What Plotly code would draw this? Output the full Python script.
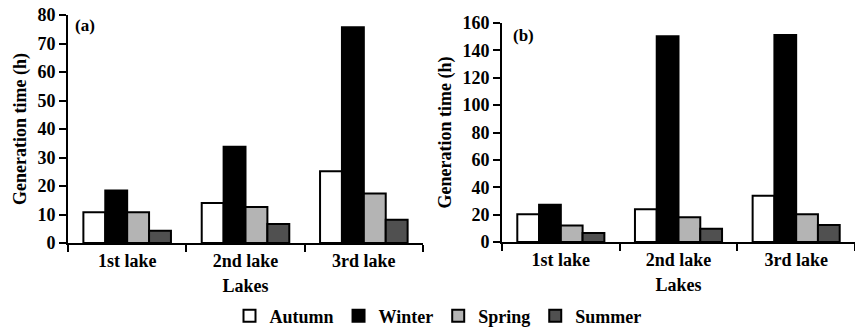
import plotly.graph_objects as go
from plotly.subplots import make_subplots

lakes = ["1st lake", "2nd lake", "3rd lake"]
seasons = ["Autumn", "Winter", "Spring", "Summer"]
colors = ["#ffffff", "#000000", "#b4b4b4", "#505050"]

panel_a = {
    "Autumn": [10.8, 14.0, 25.2],
    "Winter": [18.4, 33.8, 75.7],
    "Spring": [10.8, 12.6, 17.4],
    "Summer": [4.3, 6.7, 8.2],
}
panel_b = {
    "Autumn": [20.2, 24.0, 33.8],
    "Winter": [27.3, 150.4, 151.3],
    "Spring": [12.0, 18.1, 20.3],
    "Summer": [6.5, 9.6, 12.5],
}

FONT = "'Liberation Serif', 'Times New Roman', serif"
W, H = 855, 330

def tf(size):
    return dict(family=FONT, size=size, color="black", weight="bold")

fig = make_subplots(rows=1, cols=2)
for i, s in enumerate(seasons):
    fig.add_trace(go.Bar(x=lakes, y=panel_a[s], name=s, marker_color=colors[i],
                         marker_line_color="black", marker_line_width=2,
                         legendgroup=s, showlegend=True), row=1, col=1)
    fig.add_trace(go.Bar(x=lakes, y=panel_b[s], name=s, marker_color=colors[i],
                         marker_line_color="black", marker_line_width=2,
                         legendgroup=s, showlegend=False), row=1, col=2)

axis_common = dict(showline=True, linecolor="black", linewidth=2, ticks="outside",
                   tickcolor="black", tickwidth=2, showgrid=False, zeroline=False,
                   tickfont=tf(18))

fig.update_xaxes(**axis_common, tickson="boundaries", ticklen=7, range=[-0.5, 2.5],
                 title=dict(text="Lakes", standoff=10, font=tf(18)))
fig.update_xaxes(domain=[68/W, 423/W], row=1, col=1)
fig.update_xaxes(domain=[502/W, 1.0], row=1, col=2)

fig.update_yaxes(**axis_common, ticklen=7,
                 title=dict(text="Generation time (h)", standoff=6, font=tf(18)))
fig.update_yaxes(range=[0, 80], dtick=10, domain=[(H-243)/H, (H-15)/H], row=1, col=1)
fig.update_yaxes(range=[0, 160], dtick=20, domain=[(H-242)/H, (H-23)/H], row=1, col=2)

fig.add_annotation(text="(a)", xref="paper", yref="paper", x=73/W, y=(H-26)/H,
                   xanchor="left", yanchor="middle", showarrow=False, font=tf(17))
fig.add_annotation(text="(b)", xref="paper", yref="paper", x=511/W, y=(H-35)/H,
                   xanchor="left", yanchor="middle", showarrow=False, font=tf(17))

fig.update_layout(
    width=W, height=H, barmode="group", bargap=0.26, bargroupgap=0,
    plot_bgcolor="white", paper_bgcolor="white",
    margin=dict(l=0, r=0, t=0, b=0, autoexpand=False),
    legend=dict(orientation="h", x=438/W, xanchor="center", y=(H-316)/H, yanchor="middle",
                font=tf(18), itemwidth=30, tracegroupgap=0),
    font=dict(family=FONT, color="black"),
)

fig.write_html("out.html", config={"displayModeBar": False},
               post_script="document.body.style.margin='0';")
